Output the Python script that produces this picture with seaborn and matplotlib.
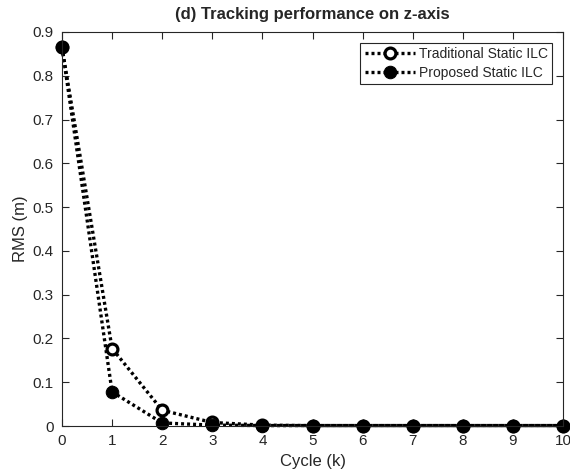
import matplotlib
matplotlib.use("Agg")
import matplotlib.pyplot as plt
import seaborn as sns
import pandas as pd
import numpy as np

cycles = [0, 1, 2, 3, 4, 5, 6, 7, 8, 9, 10]
traditional = [0.865, 0.177, 0.036, 0.008, 0.002, 0.001, 0.001, 0.001, 0.001, 0.001, 0.001]
proposed = [0.865, 0.078, 0.007, 0.002, 0.001, 0.001, 0.001, 0.001, 0.001, 0.001, 0.001]

sns.set_theme(style="white")
plt.rcParams['font.family'] = ['Liberation Sans', 'DejaVu Sans']

fig = plt.figure(figsize=(5.7, 4.73), dpi=100)
ax = fig.add_axes([62/570, 1 - 426/473, (563-62)/570, (426-32)/473])

df = pd.DataFrame({"Cycle": cycles, "Traditional": traditional, "Proposed": proposed})

sns.lineplot(data=df, x="Cycle", y="Traditional", ax=ax, color="black",
             linewidth=2.4, dashes=False, marker="o", markersize=7.8, markerfacecolor="white",
             markeredgecolor="black", markeredgewidth=2.3, label="Traditional Static ILC")
sns.lineplot(data=df, x="Cycle", y="Proposed", ax=ax, color="black",
             linewidth=2.4, dashes=False, marker="o", markersize=9, markerfacecolor="black",
             markeredgecolor="black", label="Proposed Static ILC")
for line in ax.lines:
    line.set_dashes((0.9, 0.9))
    line.set_clip_on(False)

ax.set_xlim(0, 10)
ax.set_ylim(0, 0.9)
ax.set_xticks(range(0, 11))
ax.set_yticks(np.arange(0, 0.91, 0.1))
ax.set_yticklabels(["0", "0.1", "0.2", "0.3", "0.4", "0.5", "0.6", "0.7", "0.8", "0.9"])
ax.tick_params(direction="in", length=5, width=0.8, color="#262626", labelsize=11,
               top=True, right=True, bottom=True, left=True, labelcolor="#262626", pad=6)
for s in ax.spines.values():
    s.set_color("#262626")
    s.set_linewidth(0.8)
ax.set_xlabel("Cycle (k)", fontsize=12, color="#262626", labelpad=4)
ax.set_ylabel("RMS (m)", fontsize=12, color="#262626", labelpad=3)
ax.set_title("(d) Tracking performance on z-axis", fontsize=12, fontweight="bold", pad=9)

leg = ax.legend(loc="upper right", fontsize=10, frameon=True, fancybox=False,
                edgecolor="#262626", framealpha=1, borderpad=0.3, handlelength=3.6,
                handletextpad=0.3, borderaxespad=0.8, labelspacing=0.35)
leg.get_frame().set_linewidth(0.8)
for h in leg.get_lines():
    h.set_dashes((0.9, 0.9))

fig.savefig("out.png", dpi=100)
